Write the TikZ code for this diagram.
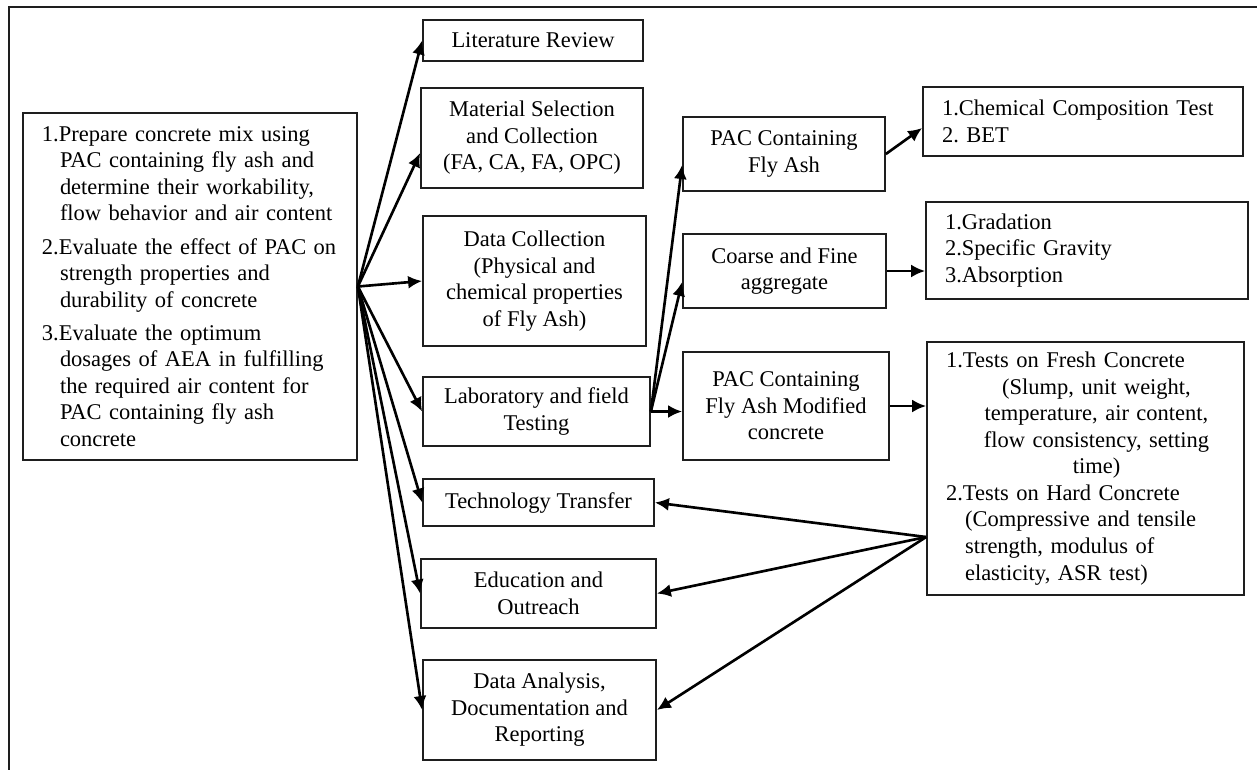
\documentclass[tikz,border=0pt]{standalone}
\usepackage{fontspec}
\setmainfont{Liberation Serif}
\usetikzlibrary{arrows.meta,positioning,calc}
\definecolor{fcedge}{RGB}{30,30,30}
\newcommand{\fcfont}{\fontsize{12.8}{15.1}\selectfont}
\newcommand{\hang}{\hspace*{0.36cm}}
\tikzset{
  fcbox/.style={
    draw=fcedge, line width=1pt, align=center,
    inner sep=2pt, font=\fcfont
  },
  lbox/.style={fcbox, align=left, inner xsep=0.38cm},
  arr/.style={-{Latex[length=2.8mm,width=2.6mm]}, draw=black, line width=1.5pt},
  frame/.style={draw=fcedge, line width=1.2pt}
}

\begin{document}
\begin{tikzpicture}[x=1cm,y=1cm]
  \useasboundingbox (0,0) rectangle (25.14,-15.40);
  % Frame (top and left only)
  \coordinate (ftr) at (25.14,-0.14);
  \coordinate (ftl) at (0.18,-0.14);
  \coordinate (fbl) at (0.18,-15.40);
  \draw[frame] (ftr) -- (ftl) -- (fbl);

  % Objectives
  \node[lbox, minimum width=6.68cm, minimum height=6.94cm, text width=5.92cm] (goal) at (3.80,-5.73) {%
    1.Prepare concrete mix using\\
    \hang PAC containing fly ash and\\
    \hang determine their workability,\\
    \hang flow behavior and air content\\[3.8pt]
    2.Evaluate the effect of PAC on\\
    \hang strength properties and\\
    \hang durability of concrete\\[3.8pt]
    3.Evaluate the optimum\\
    \hang dosages of AEA in fulfilling\\
    \hang the required air content for\\
    \hang PAC containing fly ash\\
    \hang concrete};

  % Tasks
  \node[fcbox, minimum width=4.40cm, minimum height=0.82cm] (lit) at (10.66,-0.81) {Literature Review};
  \node[fcbox, minimum width=4.44cm, minimum height=2.00cm] (mat) at (10.64,-2.76) {Material Selection\\and Collection\\(FA, CA, FA, OPC)};
  \node[fcbox, minimum width=4.46cm, minimum height=2.60cm] (datac) at (10.69,-5.62) {Data Collection\\(Physical and\\chemical properties\\of Fly Ash)};
  \node[fcbox, minimum width=4.54cm, minimum height=1.38cm] (lab) at (10.73,-8.23) {Laboratory and field\\Testing};
  \node[fcbox, minimum width=4.62cm, minimum height=0.94cm] (tech) at (10.77,-10.05) {Technology Transfer};
  \node[fcbox, minimum width=4.70cm, minimum height=1.38cm] (edu) at (10.77,-11.87) {Education and\\Outreach};
  \node[fcbox, minimum width=4.66cm, minimum height=2.00cm] (dar) at (10.79,-14.20) {Data Analysis,\\Documentation and\\Reporting};

  % Materials
  \node[fcbox, minimum width=4.04cm, minimum height=1.48cm] (pacfa) at (15.68,-3.08) {PAC Containing\\Fly Ash};
  \node[fcbox, minimum width=4.06cm, minimum height=1.48cm] (coarse) at (15.69,-5.42) {Coarse and Fine\\aggregate};
  \node[fcbox, minimum width=4.12cm, minimum height=2.16cm] (pacmod) at (15.72,-8.12) {PAC Containing\\Fly Ash Modified\\concrete};

  % Tests
  \node[lbox, minimum width=6.40cm, minimum height=1.38cm, text width=5.64cm] (chem) at (21.66,-2.43) {1.Chemical Composition Test\\2.\ BET};
  \node[lbox, minimum width=6.44cm, minimum height=1.94cm, text width=5.68cm] (grad) at (21.74,-5.01) {1.Gradation\\2.Specific Gravity\\3.Absorption};
  \node[lbox, minimum width=6.34cm, minimum height=5.06cm, text width=5.58cm] (fresh) at (21.71,-9.37) {%
    1.Tests on Fresh Concrete\\
    \hspace*{0.76cm}\makebox[4.5cm][c]{(Slump, unit weight,}\\
    \hspace*{0.76cm}\makebox[4.5cm][c]{temperature, air content,}\\
    \hspace*{0.76cm}\makebox[4.5cm][c]{flow consistency, setting}\\
    \hspace*{0.76cm}\makebox[4.5cm][c]{time)}\\
    2.Tests on Hard Concrete\\
    \hspace*{0.38cm}(Compressive and tensile\\
    \hspace*{0.38cm}strength, modulus of\\
    \hspace*{0.38cm}elasticity, ASR test)};

  \coordinate (fsrc) at ([yshift=-1.37cm]fresh.west);

  \draw[arr] (goal.east) -- (lit.west);
  \draw[arr] (goal.east) -- ([yshift=-0.3cm]mat.west);
  \draw[arr] (goal.east) -- (datac.west);
  \draw[arr] (goal.east) -- (lab.west);
  \draw[arr] (goal.east) -- (tech.west);
  \draw[arr] (goal.east) -- (edu.west);
  \draw[arr] (goal.east) -- (dar.west);

  \draw[arr] (lab.east) -- ([yshift=-0.22cm]pacfa.west);
  \draw[arr] (lab.east) -- ([yshift=-0.22cm]coarse.west);
  \draw[arr] (lab.east) -- (lab.east -| pacmod.west);

  \draw[arr] (pacfa.east) -- ([yshift=-0.13cm]chem.west);
  \draw[arr] (coarse.east) -- (coarse.east -| grad.west);
  \draw[arr] (pacmod.east) -- (pacmod.east -| fresh.west);

  \draw[arr] (fsrc) -- (tech.east);
  \draw[arr] (fsrc) -- (edu.east);
  \draw[arr] (fsrc) -- (dar.east);
\end{tikzpicture}
\end{document}
